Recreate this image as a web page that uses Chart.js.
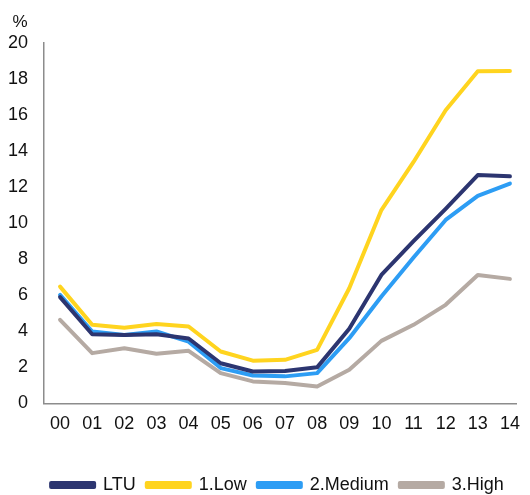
<!DOCTYPE html>
<html>
<head>
<meta charset="utf-8">
<script src="https://cdn.jsdelivr.net/npm/chart.js@4/dist/chart.umd.min.js"></script>
<style>
  html, body { margin: 0; padding: 0; background: #fff; }
  #wrap { width: 530px; height: 495px; position: relative; }
</style>
</head>
<body>
<div id="wrap"><canvas id="rateChart"></canvas></div>
<script>
// years on the x axis
const years = ["00", "01", "02", "03", "04", "05", "06", "07", "08", "09", "10", "11", "12", "13", "14"];
const yTicks = [0, 2, 4, 6, 8, 10, 12, 14, 16, 18, 20];

const ltu = [5.9, 3.84, 3.8, 3.84, 3.6, 2.23, 1.77, 1.8, 2.0, 4.14, 7.13, 9.0, 10.8, 12.67, 12.6];
const low = [6.48, 4.36, 4.2, 4.4, 4.27, 2.88, 2.37, 2.42, 2.97, 6.39, 10.73, 13.4, 16.27, 18.43, 18.45];
const medium = [6.02, 3.99, 3.8, 3.99, 3.43, 1.96, 1.55, 1.5, 1.68, 3.62, 5.93, 8.1, 10.18, 11.52, 12.2];
const high = [4.64, 2.79, 3.06, 2.75, 2.92, 1.68, 1.22, 1.13, 0.94, 1.87, 3.47, 4.36, 5.47, 7.13, 6.91];

const FONT = "'Liberation Sans', Arial, sans-serif";

const toPoints = (arr) => arr.map((v, i) => ({ x: i, y: v }));

function series(label, values, color) {
  return {
    label: label,
    data: toPoints(values),
    borderColor: color,
    backgroundColor: color,
    borderWidth: 4,
    pointRadius: 0,
    tension: 0,
    borderCapStyle: "round",
    borderJoinStyle: "round",
  };
}

// draws the "%" unit above the y axis, nudges the legend a bit to the right
const extras = {
  id: "extras",
  afterLayout(chart) {
    chart.legend.left += 11;
    chart.legend.right += 11;
  },
  afterDraw(chart) {
    const c = chart.ctx;
    const y = chart.scales.y;
    c.save();
    c.font = "17px " + FONT;
    c.fillStyle = "#111";
    c.textAlign = "center";
    c.textBaseline = "middle";
    c.fillText("%", 20, y.top - 21);
    c.restore();
  },
};

const ctx = document.getElementById("rateChart").getContext("2d");
new Chart(ctx, {
  type: "line",
  data: {
    datasets: [
      series("LTU", ltu, "#2c3570"),
      series("1.Low", low, "#ffd41f"),
      series("2.Medium", medium, "#2d9df4"),
      series("3.High", high, "#b5aaa3"),
    ],
  },
  options: {
    responsive: true,
    maintainAspectRatio: false,
    animation: false,
    layout: { padding: { top: 43, left: 8, right: 5, bottom: -9 } },
    plugins: {
      tooltip: { enabled: false },
      legend: {
        position: "bottom",
        labels: {
          boxWidth: 43,
          boxHeight: 4,
          padding: 11,
          color: "#111",
          font: { family: FONT, size: 18 },
        },
      },
    },
    scales: {
      x: {
        type: "linear",
        min: -0.5,
        max: 14.2,
        grid: { display: false, drawTicks: false },
        border: { color: "#8c8c8c", width: 1.5 },
        afterBuildTicks(scale) {
          scale.ticks = years.map((_, i) => ({ value: i }));
        },
        afterFit(scale) {
          scale.height += 20;
        },
        ticks: {
          padding: 10,
          color: "#111",
          autoSkip: false,
          maxRotation: 0,
          font: { family: FONT, size: 18 },
          callback: (v) => years[v],
        },
      },
      y: {
        min: 0,
        max: 20,
        grid: { display: false, drawTicks: false },
        border: { color: "#8c8c8c", width: 1.5 },
        afterBuildTicks(scale) {
          scale.ticks = yTicks.map((v) => ({ value: v }));
        },
        afterFit(scale) {
          scale.width = 36;
        },
        ticks: {
          padding: 16,
          color: "#111",
          font: { family: FONT, size: 18 },
        },
      },
    },
  },
  plugins: [extras],
});
</script>
</body>
</html>
